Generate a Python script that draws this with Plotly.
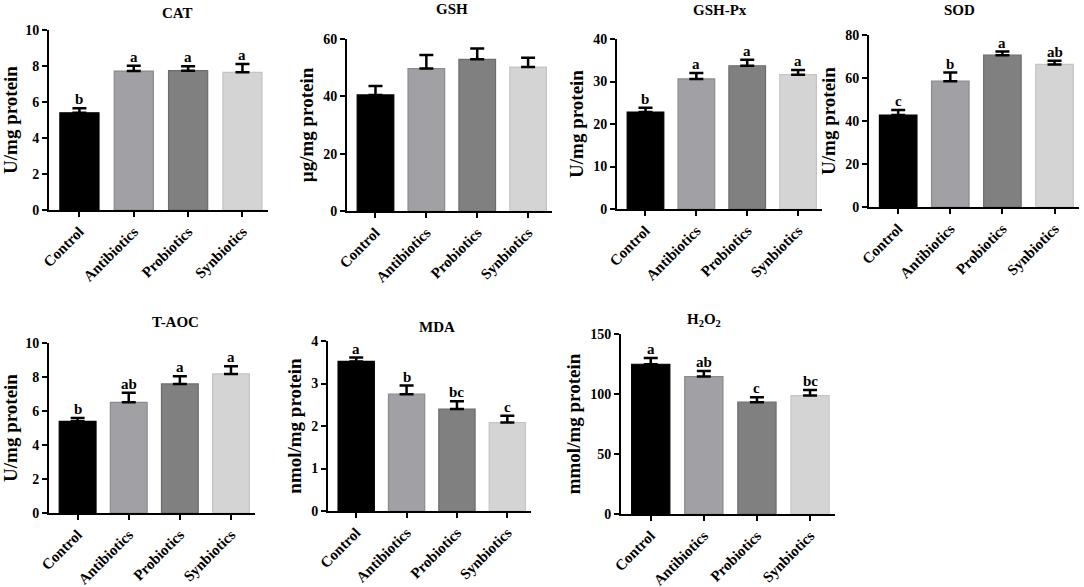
import plotly.graph_objects as go

groups = ['Control', 'Antibiotics', 'Probiotics', 'Synbiotics']
bar_colors = ['#000000', '#a0a0a5', '#808080', '#d4d4d4']
edge_colors = ['#000000', '#8a8a8f', '#6c6c6c', '#c4c4c4']

# mean values and upper error (mean + SEM)
cat_mean = [5.40, 7.72, 7.74, 7.65]
cat_top = [5.65, 8.02, 7.98, 8.11]
cat_letters = ['b', 'a', 'a', 'a']

gsh_mean = [40.5, 49.7, 52.9, 50.2]
gsh_top = [43.6, 54.4, 56.7, 53.5]
gsh_letters = ['', '', '', '']

gpx_mean = [22.8, 30.6, 33.7, 31.6]
gpx_top = [23.8, 32.0, 35.1, 32.7]
gpx_letters = ['b', 'a', 'a', 'a']

sod_mean = [42.8, 58.5, 70.6, 66.3]
sod_top = [45.1, 62.5, 72.3, 68.0]
sod_letters = ['c', 'b', 'a', 'ab']

taoc_mean = [5.39, 6.51, 7.59, 8.18]
taoc_top = [5.59, 7.08, 8.04, 8.63]
taoc_letters = ['b', 'ab', 'a', 'a']

mda_mean = [3.52, 2.75, 2.40, 2.08]
mda_top = [3.61, 2.95, 2.58, 2.24]
mda_letters = ['a', 'b', 'bc', 'c']

h2o2_mean = [124.8, 114.5, 93.2, 98.7]
h2o2_top = [130.0, 119.2, 97.3, 103.4]
h2o2_letters = ['a', 'ab', 'c', 'bc']

W, H = 1084, 587

# (title, y label, means, tops, letters, y max, y step, x px span, y px span, title px)
panels = [
    ('CAT', 'U/mg protein', cat_mean, cat_top, cat_letters, 10, 2, (49, 268), (30, 210), (160, 13)),
    ('GSH', 'µg/mg protein', gsh_mean, gsh_top, gsh_letters, 60, 20, (347, 552), (39, 211), (452, 9)),
    ('GSH-Px', 'U/mg protein', gpx_mean, gpx_top, gpx_letters, 40, 10, (617, 822), (39, 209), (720, 10)),
    ('SOD', 'U/mg protein', sod_mean, sod_top, sod_letters, 80, 20, (869, 1079), (35, 207), (977, 10)),
    ('T-AOC', 'U/mg protein', taoc_mean, taoc_top, taoc_letters, 10, 2, (49, 255), (343, 513), (150, 322)),
    ('MDA', 'nmol/mg protein', mda_mean, mda_top, mda_letters, 4, 1, (328, 531), (341, 511), (437, 327)),
    ('H<sub>2</sub>O<sub>2</sub>', 'mmol/mg protein', h2o2_mean, h2o2_top, h2o2_letters, 150, 50, (621, 835), (334, 514), (723, 320)),
]

FONT = 'Liberation Serif'
fig = go.Figure()
annotations = []

for i, (title, ylab, mean, top, letters, ymax, step, xs, ys, tp) in enumerate(panels):
    n = '' if i == 0 else str(i + 1)
    xa, ya = 'x' + n, 'y' + n
    err = [t - m for t, m in zip(top, mean)]
    fig.add_trace(go.Bar(
        x=groups, y=mean, xaxis=xa, yaxis=ya, width=0.72,
        marker=dict(color=bar_colors, line=dict(color=edge_colors, width=1.2)),
        error_y=dict(type='data', symmetric=False, array=err,
                     arrayminus=[0] * 4, color='black', thickness=2.5, width=7),
        showlegend=False, hoverinfo='x+y'))
    for g, t, lt in zip(groups, top, letters):
        if lt:
            annotations.append(dict(x=g, y=t, xref=xa, yref=ya, text='<b>%s</b>' % lt,
                                    showarrow=False, yanchor='bottom', yshift=-1,
                                    font=dict(family=FONT, size=15, color='black')))
    x0, x1 = xs[0] / W, xs[1] / W
    y0, y1 = 1 - ys[1] / H, 1 - ys[0] / H
    fig.layout['xaxis' + n] = dict(
        domain=[x0, x1], anchor=ya, type='category', range=[-0.56, 3.47],
        showline=True, linecolor='black', linewidth=2, ticks='outside',
        tickcolor='black', tickwidth=2, ticklen=5, tickangle=-45, automargin=False,
        tickfont=dict(family=FONT, size=15, color='black', weight='bold'),
        showgrid=False)
    fig.layout['yaxis' + n] = dict(
        domain=[y0, y1], anchor=xa, range=[0, ymax], dtick=step, automargin=False,
        showline=True, linecolor='black', linewidth=2, ticks='outside',
        tickcolor='black', tickwidth=2, ticklen=5, showgrid=False, zeroline=False,
        tickfont=dict(family=FONT, size=14, color='black', weight='bold'),
        title=dict(text='<b>%s</b>' % ylab, standoff=5,
                   font=dict(family=FONT, size=19, color='black')))
    annotations.append(dict(x=tp[0] / W, y=1 - tp[1] / H, xref='paper', yref='paper',
                            text='<b>%s</b>' % title, showarrow=False, yanchor='middle',
                            font=dict(family=FONT, size=15, color='black')))

fig.update_layout(width=W, height=H, margin=dict(l=0, r=0, t=0, b=0),
                  plot_bgcolor='white', paper_bgcolor='white',
                  annotations=annotations, bargap=0.3)

fig.write_html('out.html', config={'displayModeBar': False},
               post_script="document.body.style.margin='0';")
